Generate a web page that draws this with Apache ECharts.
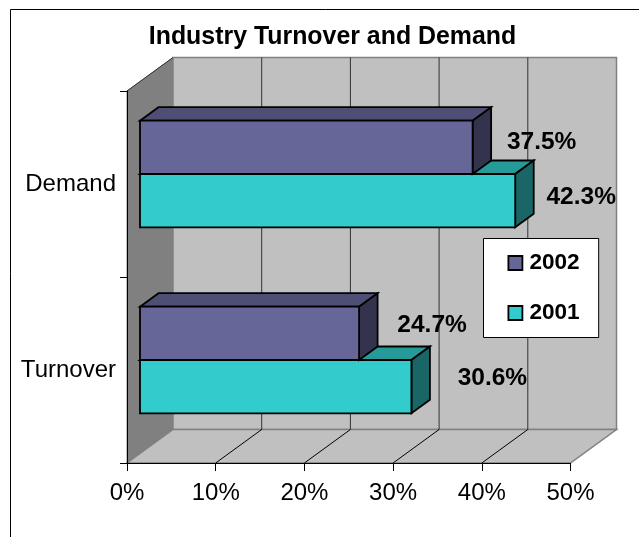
<!DOCTYPE html>
<html>
<head>
<meta charset="utf-8">
<title>Industry Turnover and Demand</title>
<script src="https://cdn.jsdelivr.net/npm/echarts@6/dist/echarts.min.js"></script>
<style>
  html, body { margin: 0; padding: 0; background: #fff; }
  #chart { width: 639px; height: 537px; }
</style>
</head>
<body>
<div id="chart"></div>
<script>
var categories = ["Turnover", "Demand"];
var values2001 = [30.6, 42.3];
var values2002 = [24.7, 37.5];
var wallTicks = [0, 10, 20, 30, 40, 50];

var FONT = '"Liberation Sans", Arial, sans-serif';
// depth of the fake 3d box and of the bars, in px
var WALL_DX = 46, WALL_DY = -33.5;
var BAR_DX = 18.5, BAR_DY = -13.5;
var BAR_START = 13, BAR_LIFT = -10, BAR_H = 53.3;

// hand placed labels in the original, offset from the bar's right end / middle
var labelShift = {
  "2001": [[81, -8], [66, -3.5]],
  "2002": [[73, -8.5], [69, -5]]
};

function poly(points, fill, stroke, width) {
  return {
    type: "polygon",
    shape: { points: points },
    style: { fill: fill, stroke: stroke, lineWidth: width || 1, lineJoin: "miter" }
  };
}

function line(x1, y1, x2, y2, color, width) {
  return {
    type: "line",
    shape: { x1: x1, y1: y1, x2: x2, y2: y2 },
    style: { stroke: color, lineWidth: width || 1 }
  };
}

function renderWalls(params, api) {
  var box = params.coordSys;
  var l = box.x, r = box.x + box.width, t = box.y, b = box.y + box.height;
  var kids = [
    poly([[l, t], [l + WALL_DX, t + WALL_DY], [l + WALL_DX, b + WALL_DY], [l, b]], "#808080", "#808080"),
    poly([[l + WALL_DX, t + WALL_DY], [r + WALL_DX, t + WALL_DY], [r + WALL_DX, b + WALL_DY], [l + WALL_DX, b + WALL_DY]], "#c0c0c0", "#808080", 1.5),
    poly([[l, b], [r, b], [r + WALL_DX, b + WALL_DY], [l + WALL_DX, b + WALL_DY]], "#c0c0c0", "#808080", 1.5)
  ];
  wallTicks.forEach(function (t2) {
    if (t2 === 0 || t2 === 50) return;
    var x = api.coord([t2, 0])[0];
    kids.push(line(x + WALL_DX, t + WALL_DY, x + WALL_DX, b + WALL_DY, "#333"));
    kids.push(line(x, b, x + WALL_DX, b + WALL_DY, "#000"));
  });
  kids.push(line(l, t, l + WALL_DX, t + WALL_DY, "#333"));
  return { type: "group", children: kids };
}

function makeBarRenderer(name, side, front, top, dark) {
  return function (params, api) {
    var val = api.value(0);
    var p = api.coord([val, api.value(1)]);
    var x0 = api.coord([0, api.value(1)])[0] + BAR_START;
    var x1 = x0 + (p[0] - api.coord([0, api.value(1)])[0]);
    var y0 = p[1] + BAR_LIFT + (side < 0 ? -BAR_H : 0);
    var y1 = y0 + BAR_H;
    var shift = labelShift[name][params.dataIndex];
    return {
      type: "group",
      children: [
        poly([[x0, y0], [x0 + BAR_DX, y0 + BAR_DY], [x1 + BAR_DX, y0 + BAR_DY], [x1, y0]], top, "#000", 1.8),
        poly([[x1, y0], [x1 + BAR_DX, y0 + BAR_DY], [x1 + BAR_DX, y1 + BAR_DY], [x1, y1]], dark, "#000", 1.8),
        poly([[x0, y0], [x1, y0], [x1, y1], [x0, y1]], front, "#000", 1.8),
        {
          type: "text",
          x: x1 + shift[0],
          y: (y0 + y1) / 2 + shift[1],
          style: {
            text: val + "%",
            fill: "#000",
            font: "bold 24.5px " + FONT,
            align: "center",
            verticalAlign: "middle"
          }
        }
      ]
    };
  };
}

function toPoints(values) {
  return values.map(function (v, i) { return [v, i]; });
}

var myChart = echarts.init(document.getElementById("chart"));

myChart.setOption({
  animation: false,
  backgroundColor: "#fff",
  title: {
    text: "Industry Turnover and Demand",
    left: 332.5,
    top: 24.5,
    textAlign: "center",
    padding: 0,
    textStyle: { fontFamily: FONT, fontSize: 24.9, fontWeight: "bold", color: "#000" }
  },
  legend: {
    data: ["2002", "2001"],
    orient: "vertical",
    left: 483.5,
    top: 238.5,
    padding: [13, 19, 13, 24],
    itemWidth: 14,
    itemHeight: 14,
    itemGap: 27,
    icon: "rect",
    z: 10,
    backgroundColor: "#fff",
    borderColor: "#000",
    borderWidth: 1,
    borderRadius: 0,
    selectedMode: false,
    itemStyle: { borderColor: "#000", borderWidth: 1.8 },
    textStyle: { fontFamily: FONT, fontSize: 22.6, fontWeight: "bold", color: "#000", padding: [0, 0, 0, 2] }
  },
  grid: { left: 127, right: 68.5, top: 91, bottom: 74 },
  xAxis: {
    type: "value",
    min: 0,
    max: 50,
    interval: 10,
    z: 3,
    splitLine: { show: false },
    axisLine: { show: true, lineStyle: { color: "#000", width: 1 } },
    axisTick: { show: true, length: 8, lineStyle: { color: "#000" } },
    axisLabel: { formatter: "{value}%", margin: 18, color: "#000", fontFamily: FONT, fontSize: 24 }
  },
  yAxis: {
    type: "category",
    data: categories,
    z: 3,
    axisLine: { show: true, lineStyle: { color: "#000", width: 1 } },
    axisTick: { show: true, length: 7, alignWithLabel: false, lineStyle: { color: "#000" } },
    axisLabel: { margin: 11, color: "#000", fontFamily: FONT, fontSize: 24 }
  },
  series: [
    {
      type: "custom",
      name: "walls",
      z: 1,
      silent: true,
      data: [[0, 0]],
      renderItem: renderWalls
    },
    {
      type: "custom",
      name: "2001",
      z: 4,
      silent: true,
      itemStyle: { color: "#33cccc" },
      encode: { x: 0, y: 1 },
      data: toPoints(values2001),
      renderItem: makeBarRenderer("2001", 1, "#33cccc", "#269999", "#1a6666")
    },
    {
      type: "custom",
      name: "2002",
      z: 5,
      silent: true,
      itemStyle: { color: "#666699" },
      encode: { x: 0, y: 1 },
      data: toPoints(values2002),
      renderItem: makeBarRenderer("2002", -1, "#666699", "#4f4f75", "#33334d")
    }
  ],
  graphic: [
    {
      type: "rect",
      z: 0,
      silent: true,
      shape: { x: 10.5, y: 9.5, width: 800, height: 800 },
      style: { fill: "none", stroke: "#000", lineWidth: 1 }
    }
  ]
});
</script>
</body>
</html>
